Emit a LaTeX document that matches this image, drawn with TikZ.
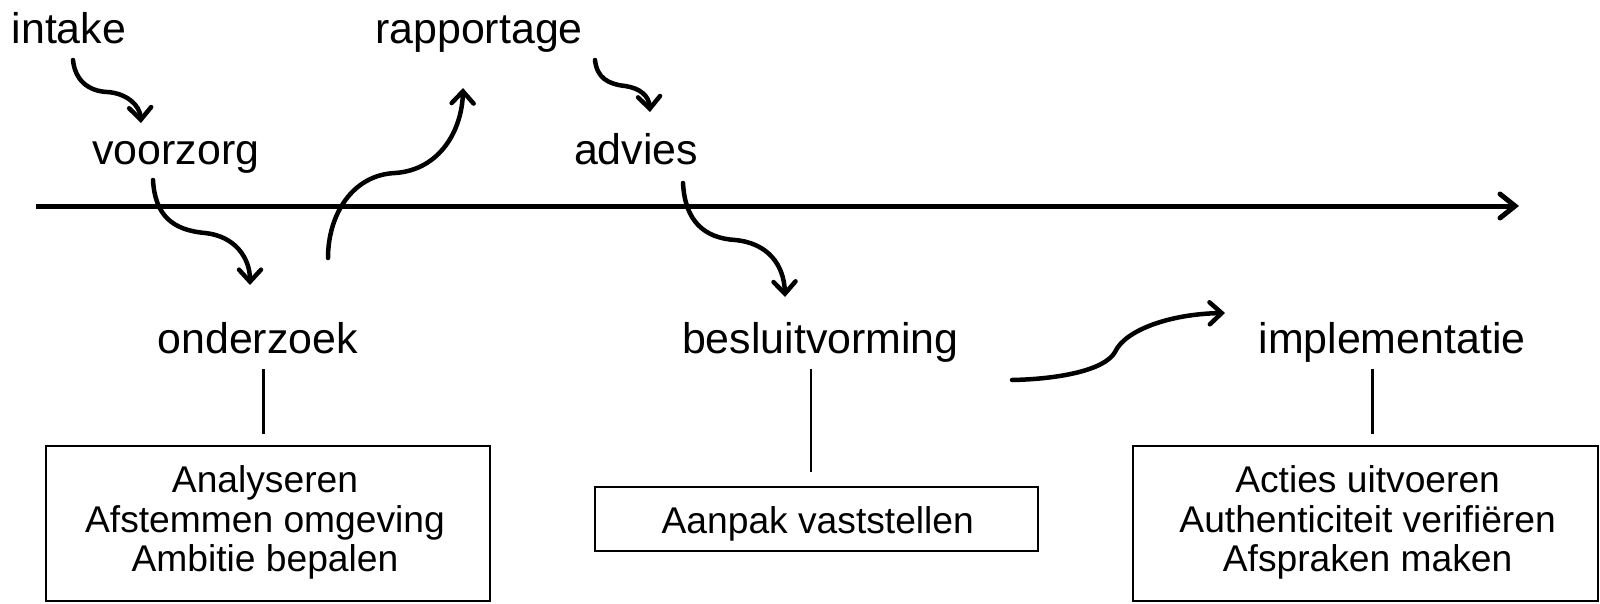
\documentclass[tikz,border=0pt]{standalone}
\usepackage{fontspec}
\setmainfont{Liberation Sans}
\usetikzlibrary{arrows.meta}
\begin{document}
\begin{tikzpicture}[x=1pt,y=-1pt,
  lbl/.style={font=\fontsize{42.9}{48}\selectfont, inner sep=0pt, anchor=base},
  boxframe/.style={draw, line width=1.6pt, inner sep=0pt},
  boxtxt/.style={font=\fontsize{37.2}{39.3}\selectfont, inner sep=0pt, align=center},
  vline/.style={line width=2.6pt},
  axis/.style={line width=5pt, -{Straight Barb[length=15pt,width=24pt,line width=5pt,line cap=round]}},
  curv/.style={line width=4.5pt, line cap=round, -{Straight Barb[length=12pt,width=22pt,line width=4.5pt,line cap=round]}}
]
\useasboundingbox (0,0) rectangle (1600,603);

% labels
\node[lbl] (intake) at (68.9,43) {intake};
\node[lbl] (rapportage) at (479,43) {rapportage};
\node[lbl] (voorzorg) at (176,164) {voorzorg};
\node[lbl] (advies) at (636,164) {advies};
\node[lbl] (onderzoek) at (257.7,353) {onderzoek};
\node[lbl] (besluit) at (820.4,353) {besluitvorming};
\node[lbl] (impl) at (1392,353) {implementatie};

% axis
\coordinate (axs) at (36,206);
\coordinate (axe) at (1519,206);
\draw[axis] (axs) -- (axe);

% boxes
\node[boxframe, minimum width=444pt, minimum height=155pt] (b1) at (267.9,523.5) {};
\node[boxtxt] (b1t) at (265,522.5) {Analyseren\\Afstemmen omgeving\\Ambitie bepalen};
\node[boxframe, minimum width=443pt, minimum height=64.3pt] (b2) at (816.4,518.9) {};
\node[boxtxt] (b2t) at (817.8,524) {Aanpak vaststellen};
\node[boxframe, minimum width=465pt, minimum height=155pt] (b3) at (1365.3,523.5) {};
\node[boxtxt] (b3t) at (1367.6,522.5) {Acties uitvoeren\\Authenticiteit verifiëren\\Afspraken maken};

% vertical connectors
\coordinate (v1a) at (263.3,369.4); \coordinate (v1b) at (263.3,433.7);
\coordinate (v2a) at (811,369.4);   \coordinate (v2b) at (811,472.4);
\coordinate (v3a) at (1372.5,369.4); \coordinate (v3b) at (1372.5,433.7);
\draw[vline] (v1a) -- (v1b);
\draw[vline] (v2a) -- (v2b);
\draw[vline] (v3a) -- (v3b);

% curved arrows
\coordinate (a1s) at (73,60);    \coordinate (a1e) at (141,123);
\coordinate (a2s) at (153,180);  \coordinate (a2e) at (250,285);
\coordinate (a3s) at (328,258);  \coordinate (a3e) at (463,88);
\coordinate (a4s) at (595,60);   \coordinate (a4e) at (650,112);
\coordinate (a5s) at (683,183);  \coordinate (a5e) at (785,297);
\coordinate (a6s) at (1012,380); \coordinate (a6e) at (1225,313);

\draw[curv] (a1s) .. controls (75,80) and (88,91) .. (107,92) .. controls (126,93) and (140,105) .. (a1e);
\draw[curv] (a2s) .. controls (155,215) and (172,230) .. (205,233) .. controls (235,236) and (250,258) .. (a2e);
\draw[curv] (a3s) .. controls (328,215) and (352,175) .. (395,173) .. controls (440,170) and (462,130) .. (a3e);
\draw[curv] (a4s) .. controls (597,78) and (608,84) .. (625,86) .. controls (640,88) and (649,96) .. (a4e);
\draw[curv] (a5s) .. controls (685,222) and (705,238) .. (735,240) .. controls (768,243) and (784,265) .. (a5e);
\draw[curv] (a6s) .. controls (1060,379) and (1105,370) .. (1115,352) .. controls (1125,330) and (1170,314) .. (a6e);
\end{tikzpicture}
\end{document}
